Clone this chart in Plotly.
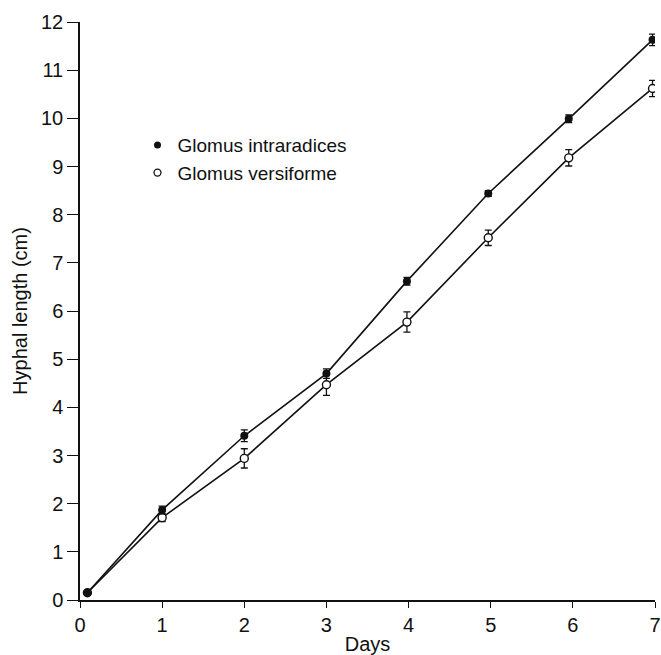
import plotly.graph_objects as go

days = [0.09, 1.0, 2.0, 3.0, 3.98, 4.97, 5.95, 6.97]
intraradices = [0.15, 1.87, 3.41, 4.70, 6.62, 8.44, 9.99, 11.63]
intraradices_err = [0.0, 0.08, 0.12, 0.10, 0.08, 0.06, 0.08, 0.12]
versiforme = [0.15, 1.71, 2.94, 4.47, 5.77, 7.52, 9.18, 10.62]
versiforme_err = [0.0, 0.08, 0.20, 0.22, 0.21, 0.16, 0.17, 0.17]
names = ["Glomus intraradices", "Glomus versiforme"]
x_ticks = [0, 1, 2, 3, 4, 5, 6, 7]
y_ticks = list(range(0, 13))

FONT = "Liberation Sans, Arial, Helvetica, sans-serif"
INK = "#111111"

fig = go.Figure()

fig.add_trace(go.Scatter(
    x=days, y=versiforme, mode="lines+markers", showlegend=False,
    line=dict(color=INK, width=1.6),
    marker=dict(symbol="circle", size=8, color="white", line=dict(color=INK, width=1.4)),
    error_y=dict(type="data", array=versiforme_err, visible=True, color=INK, thickness=1.3, width=3.5),
))
fig.add_trace(go.Scatter(
    x=days, y=intraradices, mode="lines+markers", showlegend=False,
    line=dict(color=INK, width=1.6),
    marker=dict(symbol="circle", size=8, color=INK),
    error_y=dict(type="data", array=intraradices_err, visible=True, color=INK, thickness=1.3, width=3.5),
))

# legend-only entries
fig.add_trace(go.Scatter(
    x=[None], y=[None], mode="markers", name=names[0],
    marker=dict(symbol="circle", size=7, color=INK),
))
fig.add_trace(go.Scatter(
    x=[None], y=[None], mode="markers", name=names[1],
    marker=dict(symbol="circle", size=7, color="white", line=dict(color=INK, width=1.3)),
))

fig.update_layout(
    width=661, height=655,
    margin=dict(l=80, r=6, t=22, b=55, pad=0, autoexpand=False),
    paper_bgcolor="white", plot_bgcolor="white",
    font=dict(family=FONT, size=20, color=INK),
    showlegend=True,
    legend=dict(
        x=0.1, y=0.82, xanchor="left", yanchor="top",
        bgcolor="rgba(0,0,0,0)", borderwidth=0,
        font=dict(family=FONT, size=19, color=INK),
        tracegroupgap=0, itemwidth=30,
    ),
    xaxis=dict(
        range=[0, 7], tickvals=x_ticks, ticktext=[str(v) for v in x_ticks],
        showgrid=False, zeroline=False, showline=True, linecolor=INK, linewidth=1.5,
        ticks="outside", ticklen=6, tickwidth=1.3, tickcolor=INK,
        tickfont=dict(family=FONT, size=20, color=INK),
        automargin=False, ticklabeloverflow="allow",
        title=dict(text="Days", font=dict(family=FONT, size=20, color=INK), standoff=2),
    ),
    yaxis=dict(
        range=[0, 12], tickvals=y_ticks, ticktext=[str(v) for v in y_ticks],
        showgrid=False, zeroline=False, showline=True, linecolor=INK, linewidth=1.5,
        ticks="outside", ticklen=11, tickwidth=1.3, tickcolor=INK,
        tickfont=dict(family=FONT, size=20, color=INK),
        automargin=False, ticklabeloverflow="allow",
        title=dict(text="Hyphal length (cm)", font=dict(family=FONT, size=20, color=INK), standoff=8),
    ),
)

fig.write_html(
    "out.html",
    config={"displayModeBar": False},
    post_script="document.body.style.margin='0px';",
)
